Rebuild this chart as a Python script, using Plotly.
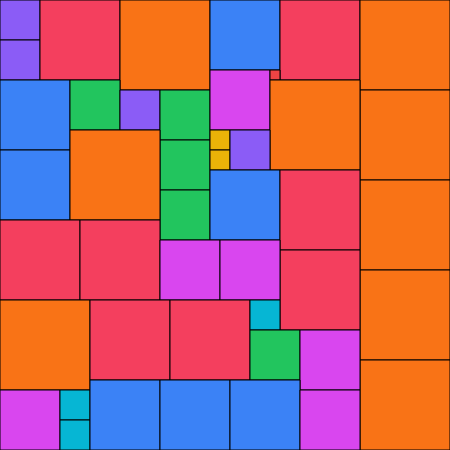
import plotly.graph_objects as go

# Square packing: top-left corner (x, y measured downward) and side length
xs = [0, 0, 40, 120, 210, 280, 360, 360, 360, 360, 360,
      0, 0, 70, 120, 160, 160, 160, 70, 210, 270, 270,
      210, 210, 230, 210, 280, 280, 0, 80, 160, 220,
      0, 90, 170, 250, 250, 300, 0, 60, 60, 90, 160, 230, 300]
ys = [0, 40, 0, 0, 0, 0, 0, 90, 180, 270, 360,
      80, 150, 80, 90, 90, 140, 190, 130, 70, 70, 80,
      130, 150, 130, 170, 170, 250, 220, 220, 240, 240,
      300, 300, 300, 300, 330, 330, 390, 390, 420, 380, 380, 380, 390]
sides = [40, 40, 80, 90, 70, 80, 90, 90, 90, 90, 90,
         70, 70, 50, 40, 50, 50, 50, 90, 60, 10, 90,
         20, 20, 40, 70, 80, 80, 80, 80, 60, 60,
         90, 80, 80, 30, 50, 60, 60, 30, 30, 70, 70, 70, 60]

size_colors = {
    10: "#ef4444", 20: "#eab308", 30: "#06b6d4", 40: "#8b5cf6",
    50: "#22c55e", 60: "#d946ef", 70: "#3b82f6", 80: "#f43f5e", 90: "#f97316",
}

fig = go.Figure()
fig.add_trace(go.Scatter(x=[0, 450], y=[0, 450], mode="markers",
                         marker=dict(opacity=0), hoverinfo="skip", showlegend=False))

for x, y, s in zip(xs, ys, sides):
    fig.add_shape(type="rect", xref="x", yref="y", x0=x, y0=y, x1=x + s, y1=y + s,
                  fillcolor=size_colors[s], line=dict(color="black", width=1), layer="above")

fig.update_xaxes(range=[0, 450], visible=False, showgrid=False, zeroline=False)
fig.update_yaxes(range=[450, 0], visible=False, showgrid=False, zeroline=False)
fig.update_layout(width=450, height=450, margin=dict(l=0, r=0, t=0, b=0),
                  plot_bgcolor="white", paper_bgcolor="white", showlegend=False)

fig.write_html("out.html", config={"displayModeBar": False},
               post_script="document.body.style.margin='0';document.body.style.overflow='hidden';")
